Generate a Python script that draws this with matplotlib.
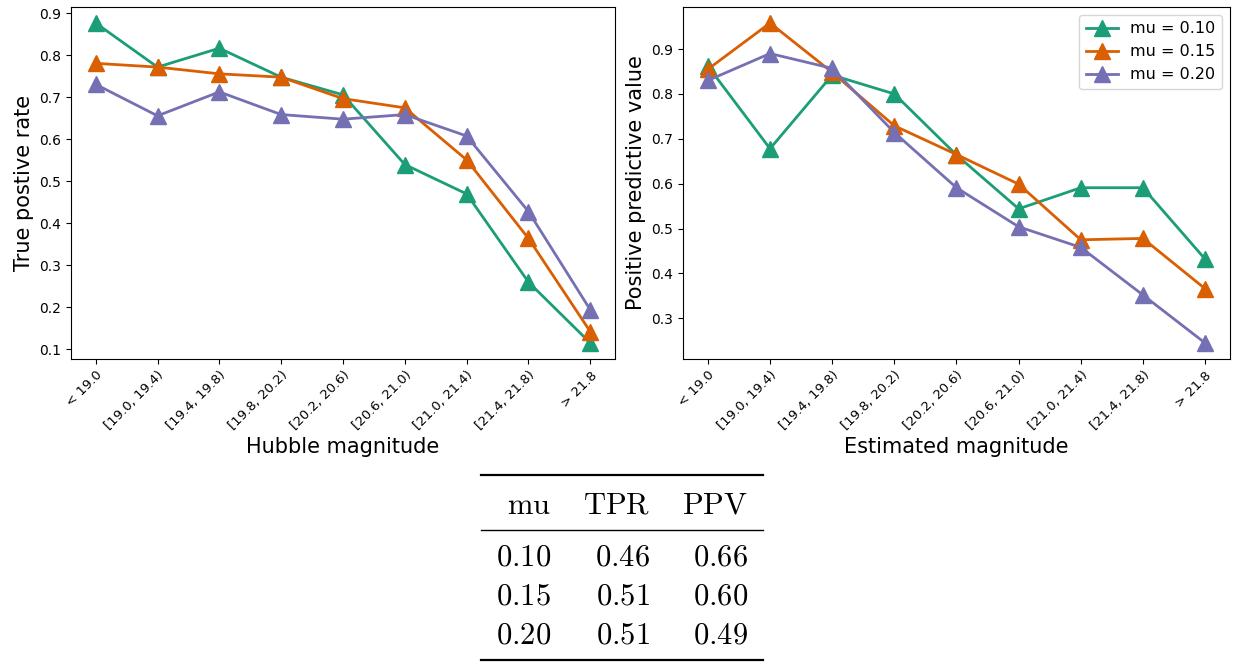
import numpy as np
import matplotlib
matplotlib.use("Agg")
import matplotlib.pyplot as plt
from matplotlib.lines import Line2D

plt.rcParams['mathtext.fontset'] = 'cm'

bins = ['< 19.0', '[19.0, 19.4)', '[19.4, 19.8)', '[19.8, 20.2)', '[20.2, 20.6)',
        '[20.6, 21.0)', '[21.0, 21.4)', '[21.4, 21.8)', '> 21.8']
mus = ['0.10', '0.15', '0.20']
colors = ['#1b9e77', '#d95f02', '#7570b3']

tpr_010 = [0.877, 0.772, 0.817, 0.748, 0.706, 0.540, 0.470, 0.260, 0.115]
tpr_015 = [0.781, 0.772, 0.756, 0.748, 0.697, 0.675, 0.551, 0.364, 0.142]
tpr_020 = [0.731, 0.656, 0.713, 0.659, 0.648, 0.659, 0.608, 0.428, 0.194]

ppv_010 = [0.862, 0.678, 0.842, 0.800, 0.664, 0.544, 0.591, 0.591, 0.432]
ppv_015 = [0.855, 0.958, 0.848, 0.729, 0.665, 0.599, 0.475, 0.478, 0.366]
ppv_020 = [0.830, 0.890, 0.857, 0.714, 0.591, 0.504, 0.458, 0.352, 0.245]

# overall numbers for the table under the plots
tab_mu = ['0.10', '0.15', '0.20']
tab_tpr = ['0.46', '0.51', '0.51']
tab_ppv = ['0.66', '0.60', '0.49']

fig = plt.figure(figsize=(12.36, 6.62), dpi=100)
ax1 = fig.add_axes([0.0574, 0.4577, 0.4402, 0.5317])
ax2 = fig.add_axes([0.5526, 0.4577, 0.4425, 0.5317])

x = np.arange(len(bins))
for ax, series in [(ax1, [tpr_010, tpr_015, tpr_020]), (ax2, [ppv_010, ppv_015, ppv_020])]:
    for s, c, m in zip(series, colors, mus):
        ax.plot(x, s, marker='^', color=c, lw=2, ms=11, label='mu = ' + m)
    ax.set_xticks(x)
    ax.set_xticklabels(bins, rotation=45, ha='right', rotation_mode='anchor', fontsize=9.5)
    ax.tick_params(axis='y', labelsize=10)

ax1.set_xlabel('Hubble magnitude', fontsize=15, labelpad=3)
ax1.set_ylabel('True postive rate', fontsize=15)
ax2.set_xlabel('Estimated magnitude', fontsize=15, labelpad=3)
ax2.set_ylabel('Positive predictive value', fontsize=15)
ax2.legend(loc='upper right', fontsize=11.5)

# table
fs = 22
col_right = [0.446, 0.526, 0.605]
fig.add_artist(Line2D([0.389, 0.617], [0.283, 0.283], color='black', lw=1.6))
fig.add_artist(Line2D([0.389, 0.617], [0.200, 0.200], color='black', lw=1.0))
fig.add_artist(Line2D([0.389, 0.617], [0.003, 0.003], color='black', lw=1.6))
heads = [r'$\mathrm{mu}$', r'$\mathrm{TPR}$', r'$\mathrm{PPV}$']
for h, cx in zip(heads, col_right):
    fig.text(cx, 0.237, h, ha='right', va='center', fontsize=fs)
row_y = [0.158, 0.099, 0.041]
for i, ry in enumerate(row_y):
    for val, cx in zip([tab_mu[i], tab_tpr[i], tab_ppv[i]], col_right):
        fig.text(cx, ry, '$' + val + '$', ha='right', va='center', fontsize=fs)

fig.savefig('out.png', dpi=100)
